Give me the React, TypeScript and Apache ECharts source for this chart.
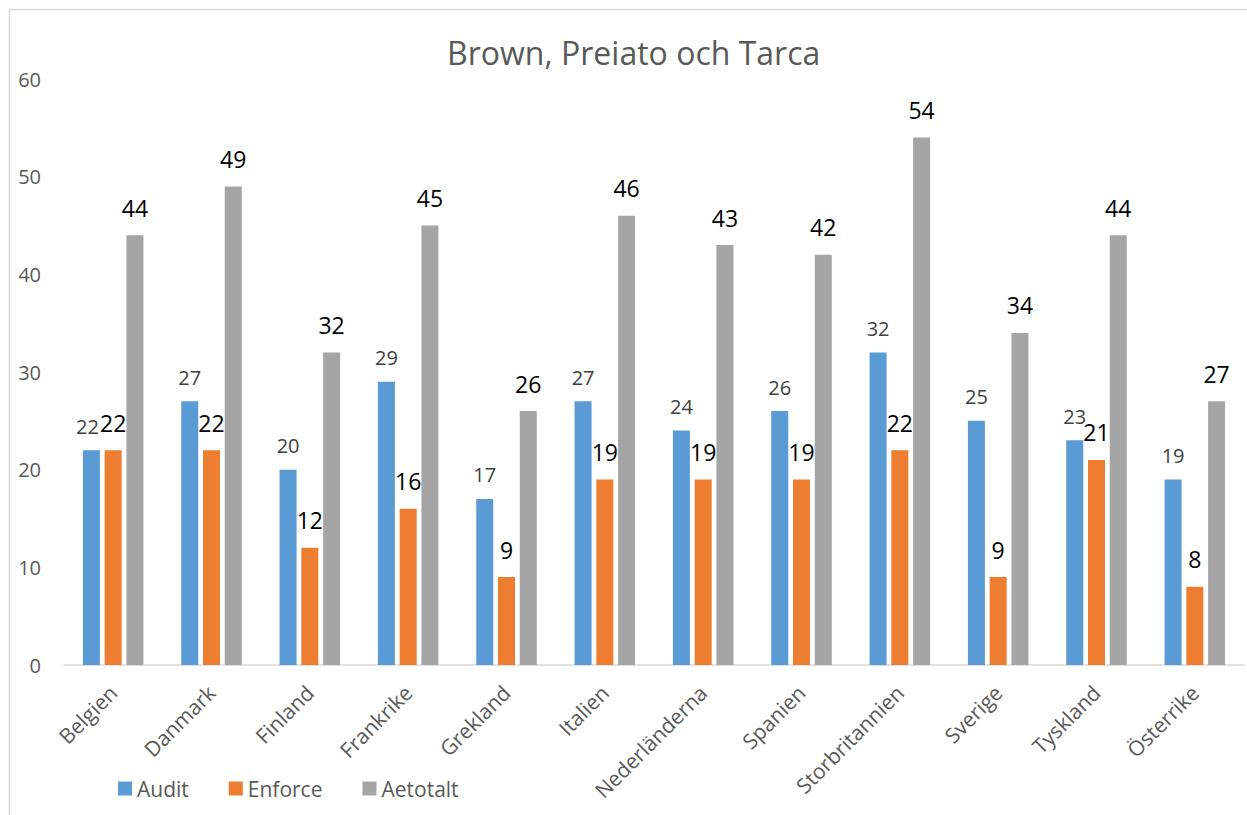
import React, { useEffect, useRef } from "react";
import * as echarts from "echarts";

const countries = [
  "Belgien",
  "Danmark",
  "Finland",
  "Frankrike",
  "Grekland",
  "Italien",
  "Nederländerna",
  "Spanien",
  "Storbritannien",
  "Sverige",
  "Tyskland",
  "Österrike",
];
const audit = [22, 27, 20, 29, 17, 27, 24, 26, 32, 25, 23, 19];
const enforce = [22, 22, 12, 16, 9, 19, 19, 19, 22, 9, 21, 8];
const aetotalt = [44, 49, 32, 45, 26, 46, 43, 42, 54, 34, 44, 27];
const yTicks = [0, 10, 20, 30, 40, 50, 60];

const FONT = "'Open Sans', 'Noto Sans', sans-serif";

export default function App() {
  const ref = useRef<HTMLDivElement>(null);

  useEffect(() => {
    if (!ref.current) return;
    const chart = echarts.init(ref.current, null, { renderer: "svg" });

    const seriesLabel = (color: string, size: number, distance: number) => ({
      show: true,
      position: "top" as const,
      distance,
      color,
      fontSize: size,
      fontFamily: FONT,
    });

    // Audit labels sit right next to the Enforce labels when both bars are equal;
    // nudge those a little to the left so the two numbers stay readable.
    const auditData = audit.map((v, i) =>
      v === enforce[i] ? { value: v, label: { offset: [-4, 0] } } : v
    );

    chart.setOption({
      animation: false,
      backgroundColor: "#ffffff",
      textStyle: { fontFamily: FONT },
      title: {
        text: "Brown, Preiato och Tarca",
        left: 442,
        top: 31,
        textStyle: {
          fontFamily: FONT,
          fontSize: 32,
          fontWeight: "normal",
          color: "#595959",
        },
      },
      graphic: [
        {
          type: "rect",
          silent: true,
          shape: { x: 9.5, y: 9.5, width: 1400, height: 1000 },
          style: { fill: "none", stroke: "#D9D9D9", lineWidth: 1.5 },
        },
      ],
      legend: {
        left: 113,
        top: 773,
        itemWidth: 14,
        itemHeight: 14,
        itemGap: 40,
        icon: "rect",
        textStyle: { fontFamily: FONT, fontSize: 21, color: "#595959" },
        data: ["Audit", "Enforce", "Aetotalt"],
      },
      grid: { left: 64, right: 3, top: 79, bottom: 150, containLabel: false },
      xAxis: {
        type: "category",
        data: countries,
        axisLine: { show: true, lineStyle: { color: "#D9D9D9", width: 1.5 } },
        axisTick: { show: false },
        axisLabel: {
          rotate: 45,
          interval: 0,
          margin: 24,
          fontFamily: FONT,
          fontSize: 21,
          color: "#595959",
        },
      },
      yAxis: {
        type: "value",
        min: yTicks[0],
        max: yTicks[yTicks.length - 1],
        interval: 10,
        axisLine: { show: false },
        axisTick: { show: false },
        splitLine: { show: false },
        axisLabel: {
          margin: 23,
          fontFamily: FONT,
          fontSize: 20,
          color: "#595959",
        },
      },
      series: [
        {
          name: "Audit",
          type: "bar",
          data: auditData,
          barWidth: 17,
          barGap: "28%",
          itemStyle: { color: "#5B9BD5" },
          label: seriesLabel("#404040", 20, 14),
        },
        {
          name: "Enforce",
          type: "bar",
          data: enforce,
          barWidth: 17,
          barGap: "28%",
          itemStyle: { color: "#ED7D31" },
          label: seriesLabel("#000000", 23, 16),
        },
        {
          name: "Aetotalt",
          type: "bar",
          data: aetotalt,
          barWidth: 17,
          barGap: "28%",
          itemStyle: { color: "#A5A5A5" },
          label: seriesLabel("#000000", 23, 16),
        },
      ],
    });

    return () => chart.dispose();
  }, []);

  return (
    <div
      ref={ref}
      style={{ position: "absolute", left: 0, top: 0, width: 1247, height: 815 }}
    />
  );
}
